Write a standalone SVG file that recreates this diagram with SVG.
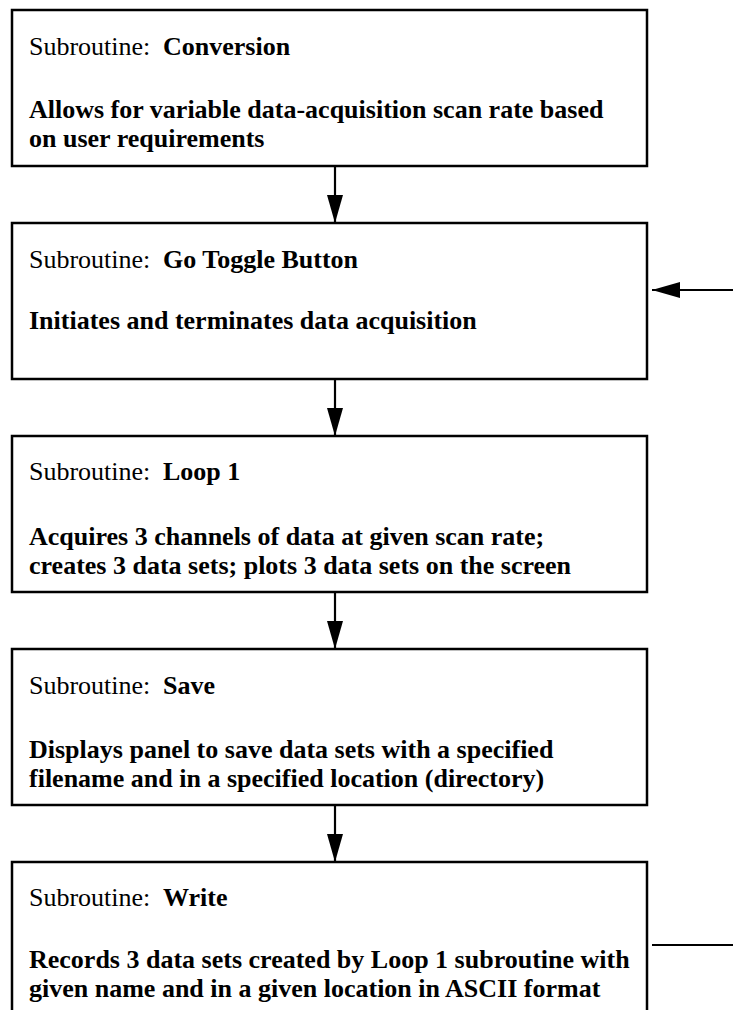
<svg xmlns="http://www.w3.org/2000/svg" width="733" height="1010" viewBox="0 0 733 1010">
<style>
.box{fill:#fff;stroke:#000;stroke-width:2.5}
.t{font-family:"Liberation Serif","Times New Roman",serif;font-size:26px;fill:#000}
.b{font-weight:bold}
.c{stroke:#000;stroke-width:2.2;fill:none}
</style>
<defs>
<marker id="ah" markerUnits="userSpaceOnUse" markerWidth="28" markerHeight="16" refX="28" refY="8" orient="auto" viewBox="0 0 28 16">
<path d="M0,0 L28,8 L0,16 Z" fill="#000"/>
</marker>
</defs>
<rect width="733" height="1010" fill="#fff"/>
<g id="connectors">
<line class="c" x1="335" y1="166" x2="335" y2="223" marker-end="url(#ah)"/>
<line class="c" x1="335" y1="379" x2="335" y2="436" marker-end="url(#ah)"/>
<line class="c" x1="335" y1="592" x2="335" y2="649" marker-end="url(#ah)"/>
<line class="c" x1="335" y1="805" x2="335" y2="862" marker-end="url(#ah)"/>
<line class="c" x1="733" y1="290" x2="652" y2="290" marker-end="url(#ah)"/>
<line class="c" x1="652" y1="945" x2="733" y2="945"/>
</g>
<g id="conversion">
<rect class="box" x="12" y="10" width="635" height="156"/>
<text class="t" x="29" y="55">Subroutine:<tspan class="b" x="163">Conversion</tspan></text>
<text class="t b" x="29" y="118">Allows for variable data-acquisition scan rate based</text>
<text class="t b" x="29" y="147">on user requirements</text>
</g>
<g id="gotoggle">
<rect class="box" x="12" y="223" width="635" height="156"/>
<text class="t" x="29" y="268">Subroutine:<tspan class="b" x="163">Go Toggle Button</tspan></text>
<text class="t b" x="29" y="329">Initiates and terminates data acquisition</text>
</g>
<g id="loop1">
<rect class="box" x="12" y="436" width="635" height="156"/>
<text class="t" x="29" y="480">Subroutine:<tspan class="b" x="163">Loop 1</tspan></text>
<text class="t b" x="29" y="545">Acquires 3 channels of data at given scan rate;</text>
<text class="t b" x="29" y="574">creates 3 data sets; plots 3 data sets on the screen</text>
</g>
<g id="save">
<rect class="box" x="12" y="649" width="635" height="156"/>
<text class="t" x="29" y="694">Subroutine:<tspan class="b" x="163">Save</tspan></text>
<text class="t b" x="29" y="758">Displays panel to save data sets with a specified</text>
<text class="t b" x="29" y="787">filename and in a specified location (directory)</text>
</g>
<g id="write">
<rect class="box" x="12" y="862" width="635" height="170"/>
<text class="t" x="29" y="906">Subroutine:<tspan class="b" x="163">Write</tspan></text>
<text class="t b" x="29" y="968">Records 3 data sets created by Loop 1 subroutine with</text>
<text class="t b" x="29" y="997">given name and in a given location in ASCII format</text>
</g>
</svg>
